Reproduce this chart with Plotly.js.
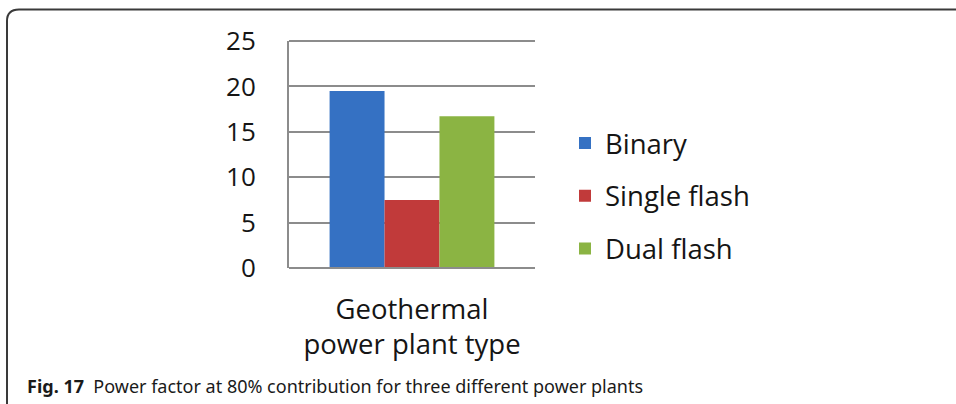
<!DOCTYPE html>
<html>
<head>
<meta charset="utf-8">
<script src="https://cdn.plot.ly/plotly-3.0.1.min.js"></script>
<style>
  html, body { margin: 0; padding: 0; background: #fff; }
  #chart { width: 956px; height: 404px; }
</style>
</head>
<body>
<div id="chart"></div>
<script>
// ---- data ----
const categories = ["Geothermal<br>power plant type"];
const seriesNames = ["Binary", "Single flash", "Dual flash"];
const binary = [19.5];
const singleFlash = [7.5];
const dualFlash = [16.7];
const yTicks = [0, 5, 10, 15, 20, 25];
const caption = "<b>Fig. 17</b>  Power factor at 80% contribution for three different power plants";

const colors = ["#3571c3", "#c13a3a", "#8bb443"];
const values = [binary, singleFlash, dualFlash];

const traces = values.map((v, i) => ({
  type: "bar",
  name: seriesNames[i],
  x: categories,
  y: v,
  marker: { color: colors[i], line: { width: 0 } },
  legendgroup: "g" + i,
  hoverinfo: "skip"
}));

// margins -> plot area pixels
const L = 289, R = 421, T = 41, B = 136;
const PW = 956 - L - R, PH = 404 - T - B;
const px = x => (x - L) / PW;
const py = y => (404 - B - y) / PH;

const borderPath =
  `M ${px(7)},${py(420)} L ${px(7)},${py(21)} ` +
  `Q ${px(7)},${py(9.5)} ${px(19)},${py(9.5)} L ${px(970)},${py(9.5)}`;

const textFont = "'Open Sans', 'Noto Sans', sans-serif";

const layout = {
  width: 956, height: 404,
  margin: { l: L, r: R, t: T, b: B, pad: 0 },
  paper_bgcolor: "#fff", plot_bgcolor: "#fff",
  font: { family: textFont, size: 27, color: "#151515" },
  barmode: "group",
  bargap: 0.33,
  showlegend: true,
  legend: {
    x: px(565), xanchor: "left",
    y: py(196), yanchor: "middle",
    traceorder: "grouped",
    tracegroupgap: 14,
    font: { family: textFont, size: 27.5, color: "#151515" },
    bgcolor: "rgba(0,0,0,0)"
  },
  xaxis: {
    type: "category",
    showgrid: false,
    showline: false,
    zeroline: false,
    ticks: "",
    ticklabelstandoff: 22,
    tickfont: { family: textFont, size: 27.5, color: "#151515" }
  },
  yaxis: {
    range: [0, 25],
    tickvals: yTicks,
    ticktext: yTicks.map(String),
    showgrid: true,
    gridcolor: "#8c8c8c",
    gridwidth: 2,
    zeroline: false,
    showline: true,
    linecolor: "#8c8c8c",
    linewidth: 2,
    ticks: "",
    ticklabelstandoff: 26,
    tickfont: { family: textFont, size: 26, color: "#151515" }
  },
  shapes: [
    {
      type: "path", xref: "paper", yref: "paper",
      path: borderPath,
      line: { color: "#3a3a3a", width: 2 }
    },
    {
      type: "line", xref: "paper", yref: "paper",
      x0: 0, x1: 1, y0: 0, y1: 0,
      line: { color: "#8c8c8c", width: 2 }
    },
    {
      type: "line", xref: "paper", yref: "paper",
      x0: 0, x1: 1, y0: 1, y1: 1,
      line: { color: "#8c8c8c", width: 2 }
    }
  ],
  annotations: [
    {
      xref: "paper", yref: "paper",
      x: px(25), xanchor: "left",
      y: py(386), yanchor: "middle",
      text: caption,
      showarrow: false,
      font: { family: "'Noto Sans', 'Open Sans', sans-serif", size: 18, color: "#1a1a1a" }
    }
  ]
};

Plotly.newPlot("chart", traces, layout, { displayModeBar: false, staticPlot: true });
</script>
</body>
</html>
